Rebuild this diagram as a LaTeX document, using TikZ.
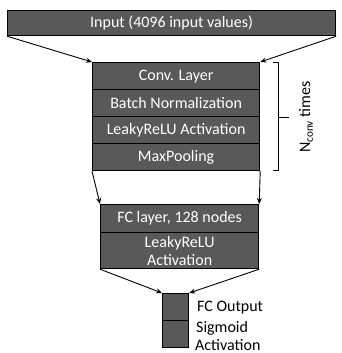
\documentclass[tikz,border=0pt]{standalone}
\usepackage{fontspec}
\setmainfont{Carlito}
\usetikzlibrary{arrows.meta}
\definecolor{layergray}{HTML}{595959}
\begin{document}
\begin{tikzpicture}[x=1pt,y=-1pt,
  layer/.style={draw=black,line width=1.2pt,fill=layergray,text=white,
    font=\fontsize{16}{18}\selectfont,inner sep=0pt,anchor=north west},
  flow/.style={-{Stealth[length=6pt,width=5pt]},line width=0.9pt},
  side/.style={font=\fontsize{16}{18}\selectfont,anchor=base west,inner sep=0pt}]
\useasboundingbox (0,0) rectangle (342,353);
% input layer
\node[layer,minimum width=328pt,minimum height=25pt] (in) at (7,10) {Input (4096 input values)};
% convolution block
\node[layer,minimum width=167pt,minimum height=27pt] (conv) at (92,62) {Conv. Layer};
\node[layer,minimum width=167pt,minimum height=27pt] (bn) at (92,89) {Batch Normalization};
\node[layer,minimum width=167pt,minimum height=27pt] (act) at (92,116) {LeakyReLU Activation};
\node[layer,minimum width=167pt,minimum height=27pt] (pool) at (92,143) {MaxPooling};
% fully connected block
\node[layer,minimum width=158pt,minimum height=28pt] (fc) at (100,204) {FC layer, 128 nodes};
\node[layer,minimum width=158pt,minimum height=36pt,align=center] (fcact) at (100,232) {LeakyReLU\\Activation};
% output block
\node[layer,minimum width=26pt,minimum height=27pt] (out) at (162,293) {};
\node[layer,minimum width=26pt,minimum height=27pt] (sig) at (162,320) {};
% connectors
\draw[flow] (in.south west) -- (conv.north west);
\draw[flow] (in.south east) -- (conv.north east);
\draw[flow] (pool.south west) -- (fc.north west);
\draw[flow] (pool.south east) -- (fc.north east);
\draw[flow] (fcact.south west) -- (out.north west);
\draw[flow] (fcact.south east) -- (out.north east);
% repetition bracket
\coordinate (bt) at (278,62);
\coordinate (bb) at (278,170);
\coordinate (bm) at (278,117);
\draw[line width=0.9pt] ([xshift=-5pt]bt) -- (bt) -- (bb) -- ([xshift=-5pt]bb);
\draw[line width=0.9pt] (bm) -- ++(11,0);
\node[rotate=90,font=\fontsize{16}{18}\selectfont,inner sep=0pt] (nconv) at (306,117) {N\textsubscript{conv} times};
% output labels
\node[side] (fcout) at (197,311) {FC Output};
\node[side] (sigl) at (196,332) {Sigmoid};
\node[side] (actl) at (195,350) {Activation};
\end{tikzpicture}
\end{document}
